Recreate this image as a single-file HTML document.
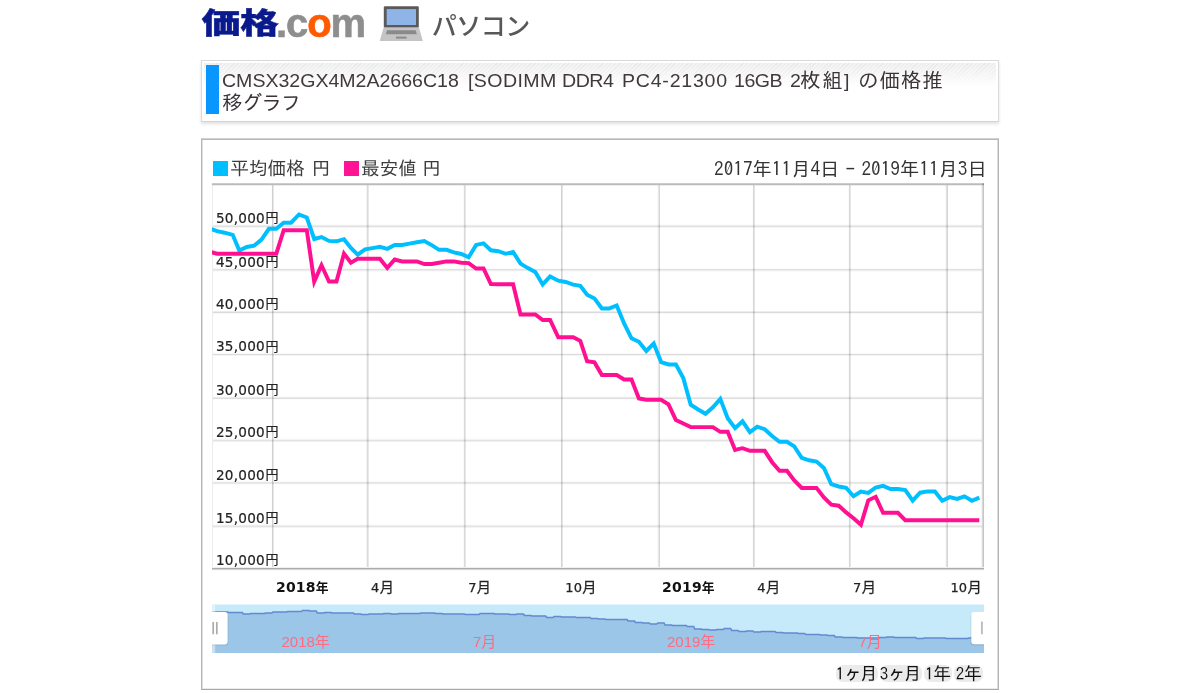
<!DOCTYPE html>
<html lang="ja"><head><meta charset="utf-8"><title>価格推移グラフ</title>
<style>
html,body{margin:0;padding:0;background:#fff;}
body{width:1200px;height:693px;position:relative;overflow:hidden;font-family:"Liberation Sans","Noto Sans CJK JP",sans-serif;}
.abs{position:absolute;white-space:nowrap;}
#logo1{left:201.5px;top:-7px;font:900 39px/56px "Noto Sans CJK JP",sans-serif;color:#0a1a8c;transform-origin:0 50%;transform:scale(1,0.745);letter-spacing:-0.5px;-webkit-text-stroke:0.5px}
#logo2{left:276px;top:-2px;font:bold 40px/50px "Liberation Sans",sans-serif;color:#8e8e8e;letter-spacing:-1.1px;-webkit-text-stroke:0.6px}
#logo2 b{color:#ff5a00}
#cat{left:431.8px;top:8px;font:500 25px/36px "Liberation Sans","Noto Sans CJK JP",sans-serif;color:#585858;letter-spacing:-0.5px}
#tbox{left:201px;top:60px;width:796px;height:60px;border:1px solid #dadada;border-bottom-color:#d4d4d4;box-shadow:0 2px 3px rgba(0,0,0,0.12);background:#fff;}
#tgrad{left:2px;top:2px;right:2px;height:24px;background:repeating-linear-gradient(135deg,#e8e8e8 0,#e8e8e8 1px,#f2f2f2 1px,#f2f2f2 3px);}
#tfade{left:2px;top:2px;right:2px;height:24px;background:linear-gradient(#fff0,#fff);}
#tbar{left:4.3px;top:4.4px;width:13px;height:48.9px;background:#0a96ff}
.tw{top:68.5px;transform-origin:0 0;transform:scaleX(1.07);font:18.3px/23px "Liberation Sans","IPAGothic","Noto Sans CJK JP",sans-serif;color:#40383e}
.tc{top:68.8px;font:20.5px/23px "IPAGothic","Noto Sans CJK JP",sans-serif;color:#3a3338}
#cbox{left:201px;top:139px;width:796px;height:549px;border:1px solid #b6b6b6;border-top-color:#b8b8b8;border-bottom-color:#a8a8a8;box-shadow:0 -1px 0 #d0d0d0,inset 1px 0 0 #e0e0e0,inset -1px 0 0 #dcdcdc,inset 0 -1px 0 #ececec;box-sizing:content-box}
.lg{font:18.67px/22px "IPAGothic","Noto Sans CJK JP",sans-serif;color:#3c3c3c;top:157px}
.sq{width:15px;height:15px;top:160.6px}
#dr{top:158px;left:714px;font:19.3px/22px "IPAGothic","Liberation Mono",monospace;color:#333;word-spacing:-3.4px}
svg text{font-family:"DejaVu Sans","Noto Sans CJK JP",sans-serif;font-size:13.6px;fill:#222}
svg .en{font-family:"Noto Sans CJK JP",sans-serif;font-size:13px;letter-spacing:0}
svg .xb{font-weight:bold;font-size:14px;fill:#111}
svg .xl{font-size:13px;fill:#222;stroke:#222;stroke-width:0.25px}
svg .yl text{stroke:#222;stroke-width:0.2px}
svg .xbc{font-size:12.8px;font-family:"Noto Sans CJK JP",sans-serif;font-weight:bold}
svg .xlc{font-size:14.2px;font-family:"Noto Sans CJK JP",sans-serif}
svg .sl{font-family:"Liberation Sans","Noto Sans CJK JP",sans-serif;font-size:15px;fill:#ff6b80}
.btn{top:665.3px;height:17.2px;background:#ebebeb;border-radius:7px;font:18px/17.6px "IPAGothic","Liberation Mono",monospace;color:#111;text-align:center;letter-spacing:-2px;text-indent:-2px}
.btn span{letter-spacing:-0.6px;font-size:17px}
</style></head><body>
<div class="abs" id="logo1">価格</div>
<div class="abs" id="logo2">.c<b>o</b>m</div>
<svg class="abs" style="left:378px;top:4px" width="48" height="40" viewBox="378 4 48 40">
<rect x="383.8" y="6.3" width="35" height="21.4" rx="1.2" fill="#5a5a5a"/>
<rect x="386.7" y="9.1" width="29.3" height="15.9" fill="#8fb4e8"/>
<polygon points="383.6,27.6 419,27.6 422.8,41 379.7,41" fill="#c4c4c4"/>
<polygon points="387,30.2 415.6,30.2 416.8,34.3 385.8,34.3" fill="#8a8a8a"/>
<rect x="396" y="36.6" width="10.6" height="2" fill="#8a8a8a"/>
</svg>
<div class="abs" id="cat">パソコン</div>
<div class="abs" id="tbox"><div class="abs" id="tgrad"></div><div class="abs" id="tfade"></div><div class="abs" id="tbar"></div>
</div>
<div id="ttext"><span class="abs tw" style="left:222.3px;letter-spacing:-0.01px">CMSX32GX4M2A2666C18</span> <span class="abs tw" style="left:467.5px;letter-spacing:0.37px">[SODIMM</span> <span class="abs tw" style="left:561.9px;letter-spacing:-0.44px">DDR4</span> <span class="abs tw" style="left:621.7px;letter-spacing:0.72px">PC4-21300</span> <span class="abs tw" style="left:734.4px;letter-spacing:-0.44px">16GB</span> <span class="abs tw" style="left:789.6px;letter-spacing:0.0px">2</span> <span class="abs tc" style="left:800.2px;letter-spacing:1.6px">枚組</span> <span class="abs tw" style="left:843.7px;letter-spacing:0.0px">]</span> <span class="abs tc" style="left:858.0px;letter-spacing:1.0px">の価格推</span> <span class="abs tc" style="left:222.3px;letter-spacing:-1.0px;top:91.3px">移グラフ</span> </div>
<div class="abs" id="cbox"></div>
<div class="abs sq" style="left:213px;background:#00bfff"></div>
<div class="abs lg" style="left:230.3px">平均価格</div><div class="abs lg" style="left:311.8px">円</div>
<div class="abs sq" style="left:343.8px;background:#ff1493"></div>
<div class="abs lg" style="left:361px">最安値</div><div class="abs lg" style="left:422.3px">円</div>
<div class="abs" id="dr">2017年11月4日 - 2019年11月3日</div>
<svg width="1200" height="693" viewBox="0 0 1200 693" style="position:absolute;left:0;top:0">
<defs><clipPath id="pc"><rect x="212" y="184" width="772" height="385"/></clipPath><clipPath id="sc"><rect x="212" y="604.5" width="772" height="48.5"/></clipPath></defs>
<g fill="none"><rect x="212" y="224" width="770" height="1" fill="#fcfcfc"/><rect x="212" y="225" width="770" height="1" fill="#ececec"/><rect x="212" y="226" width="770" height="1" fill="#e2e2e2"/><rect x="212" y="227" width="770" height="1" fill="#f4f4f4"/><rect x="212" y="268" width="770" height="1" fill="#fafafa"/><rect x="212" y="269" width="770" height="1" fill="#e2e2e2"/><rect x="212" y="270" width="770" height="1" fill="#ececec"/><rect x="212" y="271" width="770" height="1" fill="#fbfbfb"/><rect x="212" y="311" width="770" height="1" fill="#ececec"/><rect x="212" y="312" width="770" height="1" fill="#dadada"/><rect x="212" y="313" width="770" height="1" fill="#f8f8f8"/><rect x="212" y="353" width="770" height="1" fill="#f8f8f8"/><rect x="212" y="354" width="770" height="1" fill="#dcdcdc"/><rect x="212" y="355" width="770" height="1" fill="#f4f4f4"/><rect x="212" y="396" width="770" height="1" fill="#fbfbfb"/><rect x="212" y="397" width="770" height="1" fill="#ececec"/><rect x="212" y="398" width="770" height="1" fill="#dedede"/><rect x="212" y="399" width="770" height="1" fill="#fcfcfc"/><rect x="212" y="438" width="770" height="1" fill="#fcfcfc"/><rect x="212" y="439" width="770" height="1" fill="#f4f4f4"/><rect x="212" y="440" width="770" height="1" fill="#e2e2e2"/><rect x="212" y="441" width="770" height="1" fill="#f0f0f0"/><rect x="212" y="481" width="770" height="1" fill="#fafafa"/><rect x="212" y="482" width="770" height="1" fill="#e6e6e6"/><rect x="212" y="483" width="770" height="1" fill="#e8e8e8"/><rect x="212" y="484" width="770" height="1" fill="#fcfcfc"/><rect x="212" y="524" width="770" height="1" fill="#fcfcfc"/><rect x="212" y="525" width="770" height="1" fill="#eeeeee"/><rect x="212" y="526" width="770" height="1" fill="#e4e4e4"/><rect x="212" y="527" width="770" height="1" fill="#f4f4f4"/><g style="mix-blend-mode:multiply"><rect x="271" y="185" width="1" height="383" fill="#fcfcfc"/><rect x="272" y="185" width="1" height="383" fill="#d0d0d0"/><rect x="273" y="185" width="1" height="383" fill="#e8e8e8"/><rect x="366" y="185" width="1" height="383" fill="#f5f5f5"/><rect x="367" y="185" width="1" height="383" fill="#dadada"/><rect x="368" y="185" width="1" height="383" fill="#e8e8e8"/><rect x="463" y="185" width="1" height="383" fill="#fafafa"/><rect x="464" y="185" width="1" height="383" fill="#dadada"/><rect x="465" y="185" width="1" height="383" fill="#e6e6e6"/><rect x="560" y="185" width="1" height="383" fill="#fefefe"/><rect x="561" y="185" width="1" height="383" fill="#d2d2d2"/><rect x="562" y="185" width="1" height="383" fill="#e6e6e6"/><rect x="657" y="185" width="1" height="383" fill="#fafafa"/><rect x="658" y="185" width="1" height="383" fill="#e8e8e8"/><rect x="659" y="185" width="1" height="383" fill="#d6d6d6"/><rect x="752" y="185" width="1" height="383" fill="#fcfcfc"/><rect x="753" y="185" width="1" height="383" fill="#d8d8d8"/><rect x="754" y="185" width="1" height="383" fill="#e4e4e4"/><rect x="848" y="185" width="1" height="383" fill="#fcfcfc"/><rect x="849" y="185" width="1" height="383" fill="#d7d7d7"/><rect x="850" y="185" width="1" height="383" fill="#e7e7e7"/><rect x="945" y="185" width="1" height="383" fill="#f9f9f9"/><rect x="946" y="185" width="1" height="383" fill="#e2e2e2"/><rect x="947" y="185" width="1" height="383" fill="#d4d4d4"/></g></g>
<rect x="212" y="184" width="1" height="385" fill="#ececec"/>
<path d="M212,184.15 H984" stroke="#bbb" stroke-width="2" fill="none"/>
<g style="mix-blend-mode:multiply"><rect x="981" y="183.2" width="1" height="386" fill="#f6f6f6"/><rect x="982" y="183.2" width="1" height="386" fill="#d8d8d8"/><rect x="983" y="183.2" width="1" height="386" fill="#c6c6c6"/></g>
<rect x="212" y="567" width="772" height="1" fill="#f0f0f0"/><rect x="212" y="568" width="772" height="1" fill="#adadad"/><rect x="212" y="569" width="772" height="1" fill="#d4d4d4"/><rect x="212" y="570" width="772" height="1" fill="#fafafa"/>
<g class="yl"><text x="215.9" y="223.1" letter-spacing="0.25">50,000<tspan class="en" dx="0.4" dy="-0.9">円</tspan></text><text x="215.9" y="266.7" letter-spacing="0.25">45,000<tspan class="en" dx="0.4" dy="-0.9">円</tspan></text><text x="215.9" y="309.1" letter-spacing="0.25">40,000<tspan class="en" dx="0.4" dy="-0.9">円</tspan></text><text x="215.9" y="351.4" letter-spacing="0.25">35,000<tspan class="en" dx="0.4" dy="-0.9">円</tspan></text><text x="215.9" y="394.9" letter-spacing="0.25">30,000<tspan class="en" dx="0.4" dy="-0.9">円</tspan></text><text x="215.9" y="437.3" letter-spacing="0.25">25,000<tspan class="en" dx="0.4" dy="-0.9">円</tspan></text><text x="215.9" y="479.7" letter-spacing="0.25">20,000<tspan class="en" dx="0.4" dy="-0.9">円</tspan></text><text x="215.9" y="523.1" letter-spacing="0.25">15,000<tspan class="en" dx="0.4" dy="-0.9">円</tspan></text><text x="215.9" y="565.2" letter-spacing="0.25">10,000<tspan class="en" dx="0.4" dy="-0.9">円</tspan></text></g>
<g clip-path="url(#pc)" fill="none" stroke-width="3.95" stroke-linejoin="miter" stroke-miterlimit="10"><polyline stroke="#00bfff" points="209.7,228.6 217.1,231.2 224.5,232.7 232.7,234.8 239.3,250.6 246.7,247.0 254.1,245.7 261.5,239.6 268.9,228.8 276.3,228.8 283.7,222.7 291.1,222.7 299.0,214.5 306.8,217.5 314.2,239.0 321.5,237.0 329.0,240.9 336.5,241.3 344.0,239.2 350.9,248.0 357.7,254.6 365.1,249.4 372.5,248.1 379.9,246.8 387.3,248.8 394.7,244.9 402.1,244.9 409.5,243.6 416.9,242.3 424.3,241.0 431.7,245.1 439.1,249.8 446.5,249.8 453.9,252.4 461.3,254.0 468.7,257.2 476.1,244.9 483.5,243.3 490.9,250.3 498.3,251.2 505.7,253.8 513.1,251.9 520.5,263.6 527.9,268.1 535.3,272.0 542.7,284.4 550.1,276.5 558.3,280.7 565.7,282.0 573.2,284.6 580.3,285.9 587.1,294.7 594.5,298.6 601.9,308.4 609.3,308.4 616.7,305.5 624.1,323.4 631.5,338.3 638.9,341.8 646.3,351.0 653.7,343.5 661.1,362.1 668.5,364.5 675.9,364.5 683.3,378.1 690.7,404.7 698.1,409.5 705.5,413.8 712.9,407.3 720.3,398.9 727.7,418.2 735.1,428.1 742.5,421.3 749.9,432.1 757.3,426.7 764.7,429.2 772.1,436.0 779.5,441.8 786.9,441.8 794.3,446.4 801.7,457.9 809.1,460.3 816.5,461.6 823.9,467.9 831.3,484.2 838.7,486.5 846.1,487.8 853.5,496.2 860.9,491.5 868.3,492.9 875.7,487.5 883.1,485.9 890.5,489.0 897.9,489.0 905.3,490.1 912.7,500.7 920.1,492.7 927.5,491.4 934.9,491.4 942.3,500.7 949.7,497.2 957.1,498.9 964.5,496.3 971.9,500.7 979.3,497.6"/><polyline stroke="#ff1092" points="209.7,251.8 217.1,253.7 224.5,253.7 232.7,253.7 239.3,253.7 246.7,253.7 254.1,253.7 261.5,253.7 268.9,253.7 276.3,253.7 283.7,230.2 291.1,230.2 299.0,230.2 306.8,230.2 314.2,281.6 321.5,265.2 329.0,281.5 336.5,281.5 344.0,253.6 350.9,262.6 357.7,258.8 365.1,258.8 372.5,258.8 379.9,258.8 387.3,267.9 394.7,259.5 402.1,261.4 409.5,261.4 416.9,261.4 424.3,264.0 431.7,264.0 439.1,262.7 446.5,261.4 453.9,261.4 461.3,262.7 468.7,263.1 476.1,268.5 483.5,268.5 490.9,284.1 498.3,284.3 505.7,284.3 513.1,284.3 520.5,314.5 527.9,314.5 535.3,314.5 542.7,320.0 550.1,320.0 558.3,337.3 565.7,337.3 573.2,337.3 580.3,340.8 587.1,361.3 594.5,362.4 601.9,375.0 609.3,375.0 616.7,375.0 624.1,379.5 631.5,379.5 638.9,398.5 646.3,399.8 653.7,399.8 661.1,399.8 668.5,404.4 675.9,420.0 683.3,423.5 690.7,427.1 698.1,427.1 705.5,427.1 712.9,427.1 720.3,431.8 727.7,431.8 735.1,449.9 742.5,448.2 749.9,450.8 757.3,450.8 764.7,450.8 772.1,462.2 779.5,470.7 786.9,470.7 794.3,480.4 801.7,487.9 809.1,487.9 816.5,487.9 823.9,497.4 831.3,504.7 838.7,505.7 846.1,512.4 853.5,518.2 860.9,524.7 868.3,500.3 875.7,496.8 883.1,512.8 890.5,512.8 897.9,512.8 905.3,520.2 912.7,520.2 920.1,520.2 927.5,520.2 934.9,520.2 942.3,520.2 949.7,520.2 957.1,520.2 964.5,520.2 971.9,520.2 979.3,520.2"/></g>
<text class="xb" x="275.9" y="592.3" letter-spacing="0.25">2018<tspan class="xbc" dx="-0.2">年</tspan></text><text class="xl" x="371.1" y="592.3" letter-spacing="0.1">4<tspan class="xlc" dx="0.2" dy="-0.7">月</tspan></text><text class="xl" x="468.2" y="592.3" letter-spacing="0.1">7<tspan class="xlc" dx="0.2" dy="-0.7">月</tspan></text><text class="xl" x="565.3" y="592.3" letter-spacing="0.1">10<tspan class="xlc" dx="0.2" dy="-0.7">月</tspan></text><text class="xb" x="662.1" y="592.3" letter-spacing="0.25">2019<tspan class="xbc" dx="-0.2">年</tspan></text><text class="xl" x="757.3" y="592.3" letter-spacing="0.1">4<tspan class="xlc" dx="0.2" dy="-0.7">月</tspan></text><text class="xl" x="853.1" y="592.3" letter-spacing="0.1">7<tspan class="xlc" dx="0.2" dy="-0.7">月</tspan></text><text class="xl" x="950.5" y="592.3" letter-spacing="0.1">10<tspan class="xlc" dx="0.2" dy="-0.7">月</tspan></text>
<rect x="212" y="604.5" width="772" height="48.3" fill="#c6eafa"/>
<g clip-path="url(#sc)"><polygon points="205,653 205,612.00 213.7,612.00 220.1,612.00 221.1,612.00 227.5,612.00 228.5,612.50 234.9,612.50 235.9,612.50 242.3,612.50 243.3,614.00 249.7,614.00 250.7,613.50 257.1,613.50 258.1,613.50 264.5,613.50 265.5,613.00 271.9,613.00 272.9,612.00 279.3,612.00 280.3,612.00 286.7,612.00 287.7,611.50 294.1,611.50 295.1,611.50 301.5,611.50 302.5,610.50 308.9,610.50 309.9,611.00 316.3,611.00 317.3,613.00 323.7,613.00 324.7,612.50 331.1,612.50 332.1,613.00 338.5,613.00 339.5,613.00 345.9,613.00 346.9,613.00 353.3,613.00 354.3,614.00 360.7,614.00 361.7,614.50 368.1,614.50 369.1,614.00 375.5,614.00 376.5,614.00 382.9,614.00 383.9,613.50 390.3,613.50 391.3,614.00 397.7,614.00 398.7,613.50 405.1,613.50 406.1,613.50 412.5,613.50 413.5,613.50 419.9,613.50 420.9,613.00 427.3,613.00 428.3,613.00 434.7,613.00 435.7,613.50 442.1,613.50 443.1,614.00 449.5,614.00 450.5,614.00 456.9,614.00 457.9,614.00 464.3,614.00 465.3,614.50 471.7,614.50 472.7,614.50 479.1,614.50 480.1,613.50 486.5,613.50 487.5,613.50 493.9,613.50 494.9,614.00 501.3,614.00 502.3,614.00 508.7,614.00 509.7,614.50 516.1,614.50 517.1,614.00 523.5,614.00 524.5,615.50 530.9,615.50 531.9,616.00 538.3,616.00 539.3,616.00 545.7,616.00 546.7,617.50 553.1,617.50 554.1,616.50 560.5,616.50 561.5,617.00 567.9,617.00 568.9,617.00 575.3,617.00 576.3,617.50 582.7,617.50 583.7,617.50 590.1,617.50 591.1,618.50 597.5,618.50 598.5,619.00 604.9,619.00 605.9,619.50 612.3,619.50 613.3,619.50 619.7,619.50 620.7,619.50 627.1,619.50 628.1,621.00 634.5,621.00 635.5,622.50 641.9,622.50 642.9,623.00 649.3,623.00 650.3,624.00 656.7,624.00 657.7,623.00 664.1,623.00 665.1,625.00 671.5,625.00 672.5,625.50 678.9,625.50 679.9,625.50 686.3,625.50 687.3,626.50 693.7,626.50 694.7,629.00 701.1,629.00 702.1,629.50 708.5,629.50 709.5,630.00 715.9,630.00 716.9,629.50 723.3,629.50 724.3,628.50 730.7,628.50 731.7,630.50 738.1,630.50 739.1,631.50 745.5,631.50 746.5,631.00 752.9,631.00 753.9,632.00 760.3,632.00 761.3,631.50 767.7,631.50 768.7,631.50 775.1,631.50 776.1,632.50 782.5,632.50 783.5,633.00 789.9,633.00 790.9,633.00 797.3,633.00 798.3,633.50 804.7,633.50 805.7,634.50 812.1,634.50 813.1,634.50 819.5,634.50 820.5,635.00 826.9,635.00 827.9,635.50 834.3,635.50 835.3,637.00 841.7,637.00 842.7,637.50 849.1,637.50 850.1,637.50 856.5,637.50 857.5,638.00 863.9,638.00 864.9,638.00 871.3,638.00 872.3,638.00 878.7,638.00 879.7,637.50 886.1,637.50 887.1,637.00 893.5,637.00 894.5,637.50 900.9,637.50 901.9,637.50 908.3,637.50 909.3,637.50 915.7,637.50 916.7,638.50 923.1,638.50 924.1,638.00 930.5,638.00 931.5,638.00 937.9,638.00 938.9,638.00 945.3,638.00 946.3,638.50 952.7,638.50 953.7,638.50 960.1,638.50 961.1,638.50 967.5,638.50 968.5,638.00 974.9,638.00 975.9,638.50 982.3,638.50 983.3,638.50 990,638.50 990,653" fill="#9cc6e8"/><polyline points="205,612.00 213.7,612.00 220.1,612.00 221.1,612.00 227.5,612.00 228.5,612.50 234.9,612.50 235.9,612.50 242.3,612.50 243.3,614.00 249.7,614.00 250.7,613.50 257.1,613.50 258.1,613.50 264.5,613.50 265.5,613.00 271.9,613.00 272.9,612.00 279.3,612.00 280.3,612.00 286.7,612.00 287.7,611.50 294.1,611.50 295.1,611.50 301.5,611.50 302.5,610.50 308.9,610.50 309.9,611.00 316.3,611.00 317.3,613.00 323.7,613.00 324.7,612.50 331.1,612.50 332.1,613.00 338.5,613.00 339.5,613.00 345.9,613.00 346.9,613.00 353.3,613.00 354.3,614.00 360.7,614.00 361.7,614.50 368.1,614.50 369.1,614.00 375.5,614.00 376.5,614.00 382.9,614.00 383.9,613.50 390.3,613.50 391.3,614.00 397.7,614.00 398.7,613.50 405.1,613.50 406.1,613.50 412.5,613.50 413.5,613.50 419.9,613.50 420.9,613.00 427.3,613.00 428.3,613.00 434.7,613.00 435.7,613.50 442.1,613.50 443.1,614.00 449.5,614.00 450.5,614.00 456.9,614.00 457.9,614.00 464.3,614.00 465.3,614.50 471.7,614.50 472.7,614.50 479.1,614.50 480.1,613.50 486.5,613.50 487.5,613.50 493.9,613.50 494.9,614.00 501.3,614.00 502.3,614.00 508.7,614.00 509.7,614.50 516.1,614.50 517.1,614.00 523.5,614.00 524.5,615.50 530.9,615.50 531.9,616.00 538.3,616.00 539.3,616.00 545.7,616.00 546.7,617.50 553.1,617.50 554.1,616.50 560.5,616.50 561.5,617.00 567.9,617.00 568.9,617.00 575.3,617.00 576.3,617.50 582.7,617.50 583.7,617.50 590.1,617.50 591.1,618.50 597.5,618.50 598.5,619.00 604.9,619.00 605.9,619.50 612.3,619.50 613.3,619.50 619.7,619.50 620.7,619.50 627.1,619.50 628.1,621.00 634.5,621.00 635.5,622.50 641.9,622.50 642.9,623.00 649.3,623.00 650.3,624.00 656.7,624.00 657.7,623.00 664.1,623.00 665.1,625.00 671.5,625.00 672.5,625.50 678.9,625.50 679.9,625.50 686.3,625.50 687.3,626.50 693.7,626.50 694.7,629.00 701.1,629.00 702.1,629.50 708.5,629.50 709.5,630.00 715.9,630.00 716.9,629.50 723.3,629.50 724.3,628.50 730.7,628.50 731.7,630.50 738.1,630.50 739.1,631.50 745.5,631.50 746.5,631.00 752.9,631.00 753.9,632.00 760.3,632.00 761.3,631.50 767.7,631.50 768.7,631.50 775.1,631.50 776.1,632.50 782.5,632.50 783.5,633.00 789.9,633.00 790.9,633.00 797.3,633.00 798.3,633.50 804.7,633.50 805.7,634.50 812.1,634.50 813.1,634.50 819.5,634.50 820.5,635.00 826.9,635.00 827.9,635.50 834.3,635.50 835.3,637.00 841.7,637.00 842.7,637.50 849.1,637.50 850.1,637.50 856.5,637.50 857.5,638.00 863.9,638.00 864.9,638.00 871.3,638.00 872.3,638.00 878.7,638.00 879.7,637.50 886.1,637.50 887.1,637.00 893.5,637.00 894.5,637.50 900.9,637.50 901.9,637.50 908.3,637.50 909.3,637.50 915.7,637.50 916.7,638.50 923.1,638.50 924.1,638.00 930.5,638.00 931.5,638.00 937.9,638.00 938.9,638.00 945.3,638.00 946.3,638.50 952.7,638.50 953.7,638.50 960.1,638.50 961.1,638.50 967.5,638.50 968.5,638.00 974.9,638.00 975.9,638.50 982.3,638.50 983.3,638.50 990,638.50" fill="none" stroke="#628ad0" stroke-width="1.5"/>
<rect x="212" y="604.5" width="3.2" height="48.5" fill="#fff" opacity="0.45"/>
<rect x="203.5" y="612.4" width="24" height="32" rx="3" fill="#456" opacity="0.16" transform="translate(0.9,1.1)"/>
<rect x="203" y="612" width="24.6" height="32.4" rx="3" fill="#fff"/>
<path d="M213.2,622V634.2M216.8,622V634.2" stroke="#ababab" stroke-width="1.7"/>
<rect x="971.2" y="612.4" width="24" height="32" rx="3" fill="#456" opacity="0.16" transform="translate(-0.7,1.1)"/>
<rect x="971.3" y="612" width="24.6" height="32.3" rx="3" fill="#fff"/>
<path d="M981.9,621.6V634.2" stroke="#bcbcbc" stroke-width="1.9"/>
</g>
<text class="sl" x="281.5" y="646.8">2018年</text>
<text class="sl" x="473" y="646.8">7月</text>
<text class="sl" x="667" y="646.8">2019年</text>
<text class="sl" x="858.5" y="646.8">7月</text>
</svg>
<div class="abs btn" style="left:835.9px;width:41.7px"><span>1</span>ヶ月</div>
<div class="abs btn" style="left:879.5px;width:42.2px"><span>3</span>ヶ月</div>
<div class="abs btn" style="left:923.6px;width:28.8px"><span>1</span>年</div>
<div class="abs btn" style="left:954.3px;width:28.8px"><span>2</span>年</div>
</body></html>
